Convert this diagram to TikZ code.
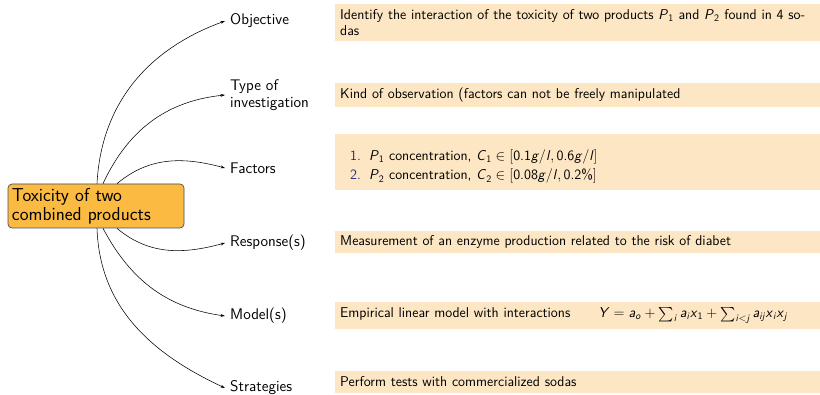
\documentclass[tikz,border=0pt]{standalone}
\usepackage{amsmath}
\usetikzlibrary{arrows.meta}
\definecolor{mainorange}{RGB}{251,186,66}
\definecolor{boxfill}{RGB}{253,230,195}
\definecolor{enumblue}{RGB}{45,45,130}
\newcommand\mv[1]{\textsf{\textit{#1}}}
\newcommand\mn[1]{\textsf{#1}}
\newcommand\enumnum[1]{\hspace*{10pt}\textcolor{enumblue}{#1}\hspace{8pt}}
\begin{document}
\begin{tikzpicture}[x=1pt,y=-1pt,
  mainbox/.style={draw=black!70, fill=mainorange, rounded corners=4pt, line width=0.7pt,
    minimum width=176pt, minimum height=44pt, text width=168pt, inner xsep=4pt, align=left,
    font=\sffamily\fontsize{18.7}{19}\selectfont},
  lab/.style={anchor=west, inner xsep=5pt, inner ysep=1pt, align=left,
    font=\sffamily\fontsize{15.4}{16.5}\selectfont},
  info/.style={anchor=west, text width=475pt, inner xsep=5pt, inner ysep=0pt, align=left,
    fill=boxfill, minimum width=485pt, font=\sffamily\fontsize{14.2}{15.5}\selectfont},
  arr/.style={-{Stealth[length=4.5pt,width=2.8pt]}, line width=0.55pt, black}
]
\useasboundingbox (0,0) rectangle (820,395);

\node[mainbox] (main) at (96,206) {Toxicity of two\\combined products};

\node[lab] (obj) at (225,21) {Objective};
\node[lab] (typ) at (225,95) {Type of\\investigation};
\node[lab] (fac) at (225,168) {Factors};
\node[lab] (res) at (225,243) {Response(s)};
\node[lab] (mod) at (225,316) {Model(s)};
\node[lab] (str) at (225,388) {Strategies};

\draw[arr] ([xshift=1pt]main.north) to[out=87,in=200] (obj.west);
\draw[arr] ([xshift=7pt]main.north) to[out=65,in=186] (typ.west);
\draw[arr] ([xshift=21pt]main.north) to[out=40,in=165] (fac.west);
\draw[arr] ([xshift=21pt]main.south) to[out=-40,in=195] (res.west);
\draw[arr] ([xshift=7pt]main.south) to[out=-62,in=172] (mod.west);
\draw[arr] ([xshift=1pt]main.south) to[out=-88,in=155] (str.west);

\node[info, minimum height=37pt] (iobj) at (335,22.5)
  {Identify the interaction of the toxicity of two products $\mv{P}_{\mn{1}}$ and $\mv{P}_{\mn{2}}$ found in 4 so-\\das};
\node[info, minimum height=24pt] (ityp) at (335,95)
  {Kind of observation (factors can not be freely manipulated};
\node[info, minimum height=56pt] (ifac) at (335,162)
  {\rule{0pt}{20pt}\enumnum{1.}$\mv{P}_{\mn{1}}$ concentration, $\mv{C}_{\mn{1}}\in[\mn{0.1}\mv{g}/\mv{l},\mn{0.6}\mv{g}/\mv{l}]$\\[4pt]
   \enumnum{2.}$\mv{P}_{\mn{2}}$ concentration, $\mv{C}_{\mn{2}}\in[\mn{0.08}\mv{g}/\mv{l},\mn{0.2\%}]$};
\node[info, minimum height=22pt] (ires) at (335,242)
  {Measurement of an enzyme production related to the risk of diabet};
\node[info, minimum height=27pt] (imod) at (335,315.5)
  {Empirical linear model with interactions\hspace{28pt}$\mv{Y}=\mv{a}_{\mv{o}}+\sum_{\mv{i}}\mv{a}_{\mv{i}}\mv{x}_{\mn{1}}+\sum_{\mv{i}<\mv{j}}\mv{a}_{\mv{ij}}\mv{x}_{\mv{i}}\mv{x}_{\mv{j}}$};
\node[info, minimum height=22pt] (istr) at (335,382)
  {Perform tests with commercialized sodas};
\end{tikzpicture}
\end{document}
